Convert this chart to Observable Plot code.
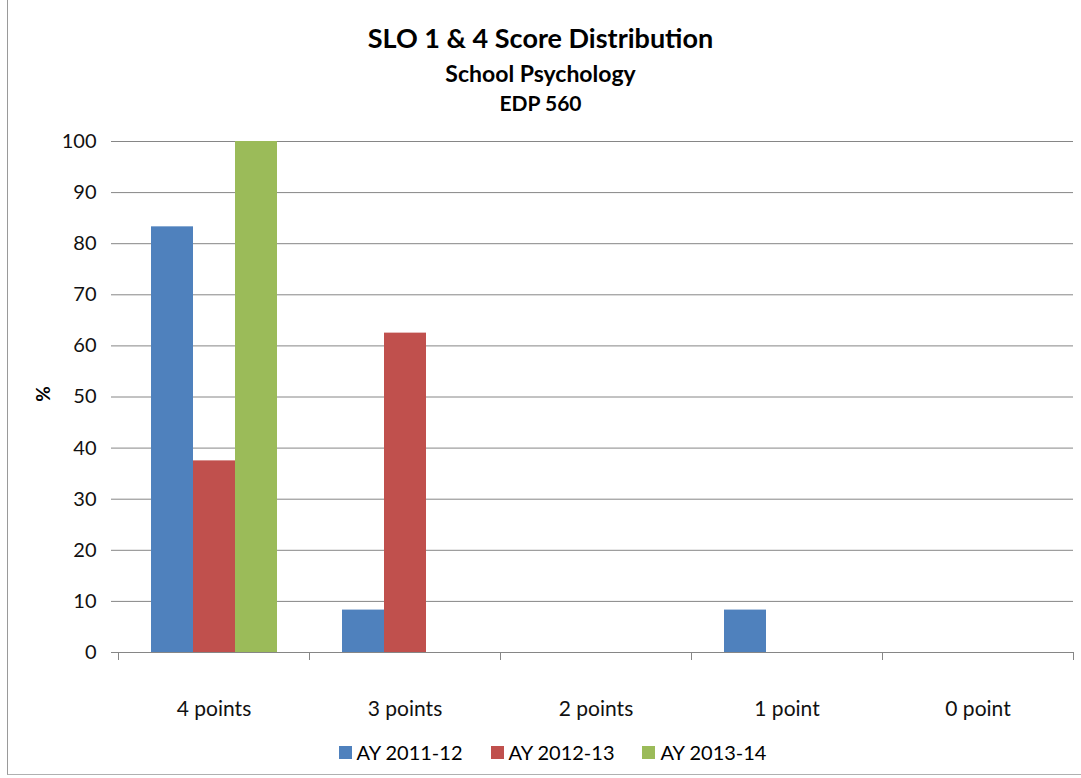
<!DOCTYPE html>
<html>
<head>
<meta charset="utf-8">
<script src="https://cdn.jsdelivr.net/npm/d3@7"></script>
<script src="https://cdn.jsdelivr.net/npm/@observablehq/plot@0.6"></script>
<style>
  html, body { margin: 0; padding: 0; background: #fff; }
  #wrap { position: relative; width: 1081px; height: 778px; font-family: Lato, "Open Sans", sans-serif; color: #000; overflow: hidden; }
  .t { position: absolute; left: 0; width: 1081px; text-align: center; font-weight: bold; white-space: nowrap; }
  #chart { position: absolute; left: 0; top: 120px; }
  #ylab { position: absolute; left: 33px; top: 384px; width: 20px; height: 20px; font-weight: bold; font-size: 19px; transform: rotate(-90deg); text-align: center; line-height: 20px; }
  #legend { position: absolute; left: 12px; top: 740px; width: 1081px; display: flex; justify-content: center; font-size: 20px; line-height: 24px; }
  .item { display: flex; align-items: center; margin: 0 14px; }
  .sw { width: 13px; height: 13px; margin-right: 5px; }
  #border { position: absolute; left: 7px; top: -2px; width: 1090px; height: 777px; border-left: 1px solid #9a9a9a; border-bottom: 1px solid #b0b0b0; box-sizing: border-box; pointer-events: none; }
</style>
</head>
<body>
<div id="wrap">
  <div id="border"></div>
  <div class="t" id="title" style="top:22px;font-size:27px;line-height:32px;"></div>
  <div class="t" id="sub1" style="top:59px;font-size:23px;line-height:28px;"></div>
  <div class="t" id="sub2" style="top:90px;font-size:21px;line-height:26px;"></div>
  <div id="ylab"></div>
  <div id="chart"></div>
  <div id="legend"></div>
</div>
<script>
const titleText = "SLO 1 & 4 Score Distribution";
const subtitle1 = "School Psychology";
const subtitle2 = "EDP 560";
const yLabel = "%";
const categories = ["4 points", "3 points", "2 points", "1 point", "0 point"];
const series = ["AY 2011-12", "AY 2012-13", "AY 2013-14"];
const values2011 = [83.3, 8.3, 0, 8.3, 0];
const values2012 = [37.5, 62.5, 0, 0, 0];
const values2013 = [100, 0, 0, 0, 0];
const colors = ["#4F81BD", "#C0504D", "#9BBB59"];
const yTicks = [0, 10, 20, 30, 40, 50, 60, 70, 80, 90, 100];

document.getElementById("title").textContent = titleText;
document.getElementById("sub1").textContent = subtitle1;
document.getElementById("sub2").textContent = subtitle2;
document.getElementById("ylab").textContent = yLabel;

const seriesValues = [values2011, values2012, values2013];
const data = [];
categories.forEach((c, i) => {
  series.forEach((s, j) => {
    data.push({category: c, series: s, value: seriesValues[j][i]});
  });
});

const W = 1081, H = 610, mL = 118, mR = 8;
const band = (W - mL - mR) / categories.length;
const grey = "#868686";

const chart = Plot.plot({
  width: W,
  height: H,
  marginLeft: mL,
  marginRight: mR,
  marginTop: 21,
  marginBottom: 78,
  style: {fontFamily: "Lato, 'Open Sans', sans-serif", color: "#000", background: "transparent"},
  fx: {domain: categories, padding: 0, label: null},
  x: {domain: series, paddingInner: 0, paddingOuter: 0.75, axis: null},
  y: {domain: [0, 100], label: null},
  color: {domain: series, range: colors},
  marks: [
    Plot.gridY({ticks: yTicks, stroke: grey, strokeOpacity: 1}),
    Plot.barY(data, {fx: "category", x: "series", y: "value", fill: "series"}),
    Plot.axisY({ticks: yTicks, tickSize: 7, tickPadding: 15, fontSize: 20, stroke: grey, fill: "#111", line: true, label: null}),
    Plot.axisFx({anchor: "bottom", tickSize: 0, tickPadding: 49, fontSize: 21, fill: "#111", label: null}),
    Plot.axisFx({anchor: "bottom", tickSize: 8, text: null, stroke: grey, dx: -band / 2, label: null}),
    Plot.axisFx({anchor: "bottom", ticks: [categories[categories.length - 1]], tickSize: 8, text: null, stroke: grey, dx: band / 2, label: null})
  ]
});
document.getElementById("chart").appendChild(chart);

const legend = document.getElementById("legend");
series.forEach((s, j) => {
  const it = document.createElement("div");
  it.className = "item";
  const sw = document.createElement("div");
  sw.className = "sw";
  sw.style.background = colors[j];
  const tx = document.createElement("span");
  tx.textContent = s;
  it.appendChild(sw);
  it.appendChild(tx);
  legend.appendChild(it);
});
</script>
</body>
</html>
